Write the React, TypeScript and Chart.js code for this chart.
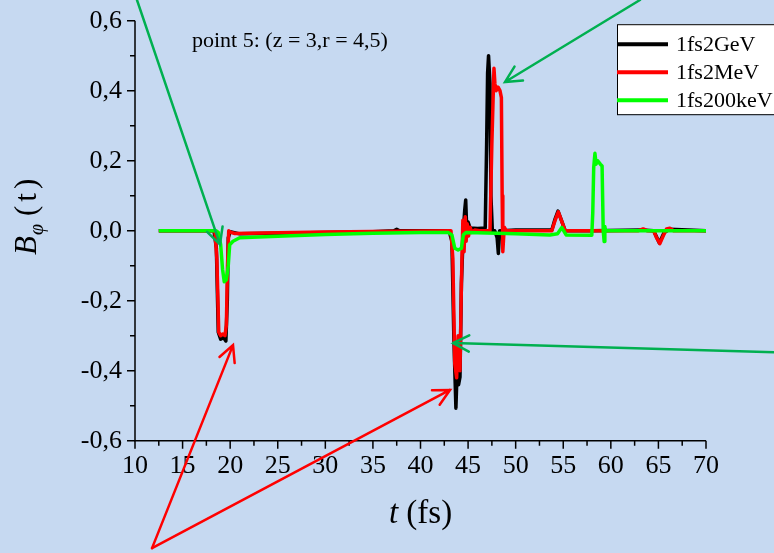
import React, { useEffect, useRef } from "react";
import { Chart, registerables } from "chart.js";

Chart.register(...registerables);

// Time axis (fs) and B_phi values for each beam energy
const tGeV = [12.5, 18.3, 18.55, 18.75, 19.0, 19.3, 19.55, 19.7, 19.8, 20.0, 21, 25, 30, 35, 37.2, 37.5, 37.8, 43.0, 43.3, 43.5, 43.72, 43.85, 44.0, 44.15, 44.3, 44.5, 44.65, 44.75, 44.85, 45.0, 45.2, 46.0, 46.8, 46.95, 47.05, 47.15, 47.3, 47.4, 47.55, 47.8, 48.05, 48.18, 48.32, 48.6, 50, 53.8, 54.1, 54.45, 54.8, 55.2, 58, 63.3, 64.5, 65.1, 65.6, 66.2, 70];
const bGeV = [0, 0, -0.05, -0.29, -0.31, -0.305, -0.315, -0.2, -0.02, -0.003, -0.009, -0.007, -0.005, -0.003, 0, 0.004, 0, 0, -0.03, -0.3, -0.507, -0.4, -0.44, -0.418, -0.15, 0.0, 0.06, 0.088, 0.01, 0.025, 0.008, 0.006, 0.008, 0.25, 0.45, 0.5, 0.42, 0.1, 0.0, 0.0, -0.02, -0.065, 0.0, 0.0, 0.002, 0.002, 0.03, 0.056, 0.03, 0.0, 0.0, 0.002, 0.0, -0.035, -0.005, 0.004, 0];

const tMeV = [12.5, 18.4, 18.6, 18.8, 19.0, 19.2, 19.45, 19.6, 19.72, 19.85, 20.0, 20.5, 25, 30, 35, 43.2, 43.4, 43.6, 43.8, 43.95, 44.05, 44.15, 44.3, 44.45, 44.58, 44.7, 44.8, 44.9, 45.05, 45.2, 45.4, 45.7, 46.2, 47.3, 47.5, 47.72, 47.82, 47.95, 48.15, 48.35, 48.5, 48.58, 48.65, 48.8, 49.0, 53.8, 54.15, 54.48, 54.8, 55.2, 58, 62.9, 63.4, 63.8, 64.5, 64.8, 65.15, 65.5, 65.85, 66.2, 66.6, 70];
const bMeV = [0, 0, -0.08, -0.29, -0.3, -0.295, -0.3, -0.27, -0.1, 0.0, -0.004, -0.008, -0.006, -0.004, -0.002, 0, -0.08, -0.38, -0.42, -0.3, -0.34, -0.4, -0.15, 0.03, -0.06, 0.04, -0.03, 0.02, -0.015, 0.01, -0.005, 0.002, 0, 0, 0.25, 0.464, 0.42, 0.4, 0.41, 0.4, 0.38, 0.1, -0.06, 0.01, 0.0, 0.0, 0.03, 0.054, 0.03, 0.0, 0.0, 0.0, 0.005, 0.0, 0.0, -0.02, -0.037, -0.015, 0.005, 0.007, 0.0, 0];

const tKeV = [12.5, 18.5, 18.75, 19.0, 19.2, 19.38, 19.6, 19.8, 19.95, 20.3, 21, 25, 30, 35, 40, 42.9, 43.3, 43.6, 43.95, 44.3, 44.5, 44.8, 46, 50, 53.6, 54.4, 54.85, 55.3, 58.0, 58.1, 58.2, 58.33, 58.45, 58.6, 58.9, 59.08, 59.2, 59.3, 59.37, 59.45, 70];
const bKeV = [0, 0, -0.005, -0.04, -0.11, -0.146, -0.14, -0.1, -0.04, -0.03, -0.02, -0.016, -0.011, -0.007, -0.005, -0.005, -0.012, -0.05, -0.055, -0.05, -0.012, -0.005, -0.006, -0.009, -0.012, -0.009, 0.009, -0.012, -0.013, 0.05, 0.18, 0.221, 0.19, 0.2, 0.19, 0.185, 0.0, -0.031, 0.012, 0.0, 0.0];

const seriesLabels = ["1fs2GeV", "1fs2MeV", "1fs200keV"];
const seriesColors = ["#000000", "#ff0000", "#00ff00"];
const seriesT = [tGeV, tMeV, tKeV];
const seriesB = [bGeV, bMeV, bKeV];

const xTicks = [10, 70, 5];
const yTicks = [-0.6, 0.6, 0.2];

const plotTitle = "point 5: (z = 3,r = 4,5)";

// Pointer arrows, given in data coordinates [t, B]
const greenArrows = [
  { from: [10.21, 0.659], to: [18.93, -0.039] },
  { from: [63.06, 0.659], to: [48.88, 0.425] },
  { from: [77.14, -0.347], to: [43.41, -0.321] },
];
const redArrows = [
  { from: [11.79, -0.907], to: [20.3, -0.327] },
  { from: [11.79, -0.907], to: [43.1, -0.455] },
];

const SERIF = "'Liberation Serif', 'Times New Roman', serif";
const BG = "#c6d9f1";

function fmtComma(v: number) {
  const r = Math.round(v * 10) / 10;
  if (Math.abs(r) < 1e-9) return "0,0";
  return r.toFixed(1).replace(".", ",");
}

function drawArrow(ctx: CanvasRenderingContext2D, x1: number, y1: number, x2: number, y2: number, color: string) {
  const ang = Math.atan2(y2 - y1, x2 - x1);
  const len = 18;
  const spread = (27 * Math.PI) / 180;
  ctx.save();
  ctx.strokeStyle = color;
  ctx.lineWidth = 2.5;
  ctx.lineCap = "round";
  ctx.beginPath();
  ctx.moveTo(x1, y1);
  ctx.lineTo(x2, y2);
  ctx.moveTo(x2 - len * Math.cos(ang - spread), y2 - len * Math.sin(ang - spread));
  ctx.lineTo(x2, y2);
  ctx.lineTo(x2 - len * Math.cos(ang + spread), y2 - len * Math.sin(ang + spread));
  ctx.stroke();
  ctx.restore();
}

const decorations = {
  id: "decorations",
  beforeDraw(chart: any) {
    const { ctx, width, height } = chart;
    ctx.save();
    ctx.fillStyle = BG;
    ctx.fillRect(0, 0, width, height);
    ctx.restore();
  },
  afterDraw(chart: any) {
    const { ctx, chartArea } = chart;
    const xs = chart.scales.x;
    const ys = chart.scales.y;
    const { left, right, top, bottom } = chartArea;

    ctx.save();
    ctx.strokeStyle = "#000";
    ctx.lineWidth = 1.5;
    // axis lines
    ctx.beginPath();
    ctx.moveTo(left, top);
    ctx.lineTo(left, bottom);
    ctx.lineTo(right, bottom);
    ctx.stroke();
    // major and minor ticks
    ctx.beginPath();
    for (let i = 0; ; i++) {
      const v = yTicks[0] + i * (yTicks[2] / 2);
      if (v > yTicks[1] + 1e-9) break;
      const p = ys.getPixelForValue(v);
      const l = i % 2 === 0 ? 8 : 5;
      ctx.moveTo(left - l, p);
      ctx.lineTo(left, p);
    }
    for (let i = 0; ; i++) {
      const v = xTicks[0] + i * (xTicks[2] / 2);
      if (v > xTicks[1] + 1e-9) break;
      const p = xs.getPixelForValue(v);
      const l = i % 2 === 0 ? 8 : 5;
      ctx.moveTo(p, bottom);
      ctx.lineTo(p, bottom + l);
    }
    ctx.stroke();

    // x axis title: italic t, upright (fs)
    ctx.fillStyle = "#000";
    ctx.textBaseline = "alphabetic";
    const xtA = "t";
    const xtB = " (fs)";
    ctx.font = `italic 33px ${SERIF}`;
    const wA = ctx.measureText(xtA).width;
    ctx.font = `33px ${SERIF}`;
    const wB = ctx.measureText(xtB).width;
    const cx = (left + right) / 2;
    const sx = cx - (wA + wB) / 2;
    ctx.font = `italic 33px ${SERIF}`;
    ctx.fillText(xtA, sx, 523);
    ctx.font = `33px ${SERIF}`;
    ctx.fillText(xtB, sx + wA, 523);

    // y axis title: B with subscript phi, then (t)
    ctx.save();
    ctx.translate(36, 255);
    ctx.rotate(-Math.PI / 2);
    let ty = 0;
    ctx.font = `italic 31px ${SERIF}`;
    ctx.fillText("B", ty, 0);
    ty += ctx.measureText("B").width + 1;
    ctx.font = `italic 20px ${SERIF}`;
    ctx.fillText("\u03c6", ty, 7);
    ty += ctx.measureText("\u03c6").width + 8;
    ctx.font = `31px ${SERIF}`;
    for (const ch of ["(", "t", ")"]) {
      ctx.fillText(ch, ty, 0);
      ty += ctx.measureText(ch).width + 4;
    }
    ctx.restore();

    // annotation text
    ctx.font = `22px ${SERIF}`;
    ctx.fillText(plotTitle, left + 57, top + 26);

    // legend box
    const lx = right - 89;
    const ly = top + 3.5;
    ctx.fillStyle = "#fff";
    ctx.fillRect(lx, ly, 180, 90);
    ctx.lineWidth = 1;
    ctx.strokeStyle = "#000";
    ctx.strokeRect(lx + 0.5, ly + 0.5, 180, 90);
    ctx.textBaseline = "middle";
    ctx.font = `22px ${SERIF}`;
    for (let i = 0; i < seriesLabels.length; i++) {
      const ry = ly + 20 + i * 28;
      ctx.strokeStyle = seriesColors[i];
      ctx.lineWidth = 4;
      ctx.beginPath();
      ctx.moveTo(lx, ry);
      ctx.lineTo(lx + 51, ry);
      ctx.stroke();
      ctx.fillStyle = "#000";
      ctx.fillText(seriesLabels[i], lx + 59, ry + 1);
    }

    // arrows
    for (const a of greenArrows) {
      drawArrow(ctx, xs.getPixelForValue(a.from[0]), ys.getPixelForValue(a.from[1]), xs.getPixelForValue(a.to[0]), ys.getPixelForValue(a.to[1]), "#00b050");
    }
    for (const a of redArrows) {
      drawArrow(ctx, xs.getPixelForValue(a.from[0]), ys.getPixelForValue(a.from[1]), xs.getPixelForValue(a.to[0]), ys.getPixelForValue(a.to[1]), "#ff0000");
    }
    ctx.restore();
  },
};

export default function App() {
  const canvasRef = useRef<HTMLCanvasElement | null>(null);

  useEffect(() => {
    document.body.style.margin = "0";
    const canvas = canvasRef.current;
    if (!canvas) return;
    const datasets = seriesLabels.map((label, i) => ({
      label,
      data: seriesT[i].map((t, j) => ({ x: t, y: seriesB[i][j] })),
      borderColor: seriesColors[i],
      backgroundColor: seriesColors[i],
      borderWidth: 3.5,
      pointRadius: 0,
      tension: 0,
      fill: false,
      borderJoinStyle: "round" as const,
      order: seriesLabels.length - i,
    }));
    const chart = new Chart(canvas, {
      type: "line",
      data: { datasets },
      options: {
        responsive: false,
        animation: false,
        devicePixelRatio: 1,
        layout: { padding: { left: 0, right: 68, top: 20.7, bottom: 0 } },
        plugins: { legend: { display: false }, tooltip: { enabled: false }, title: { display: false } },
        scales: {
          x: {
            type: "linear",
            min: xTicks[0],
            max: xTicks[1],
            grid: { display: false, drawTicks: false },
            border: { display: false },
            ticks: {
              stepSize: xTicks[2],
              padding: 10,
              color: "#000",
              font: { family: SERIF, size: 26 },
              maxRotation: 0,
              autoSkip: false,
            },
            afterFit: (s: any) => {
              s.height = 112.3;
              s.paddingLeft = 0;
              s.paddingRight = 0;
            },
          },
          y: {
            type: "linear",
            min: yTicks[0],
            max: yTicks[1],
            grid: { display: false, drawTicks: false },
            border: { display: false },
            ticks: {
              stepSize: yTicks[2],
              padding: 13,
              color: "#000",
              font: { family: SERIF, size: 26 },
              autoSkip: false,
              callback: (v: any) => fmtComma(Number(v)),
            },
            afterFit: (s: any) => {
              s.width = 135;
              s.paddingTop = 0;
              s.paddingBottom = 0;
            },
          },
        },
      },
      plugins: [decorations],
    });
    return () => chart.destroy();
  }, []);

  return (
    <div style={{ width: 774, height: 553 }}>
      <canvas ref={canvasRef} width={774} height={553} style={{ display: "block" }} />
    </div>
  );
}
